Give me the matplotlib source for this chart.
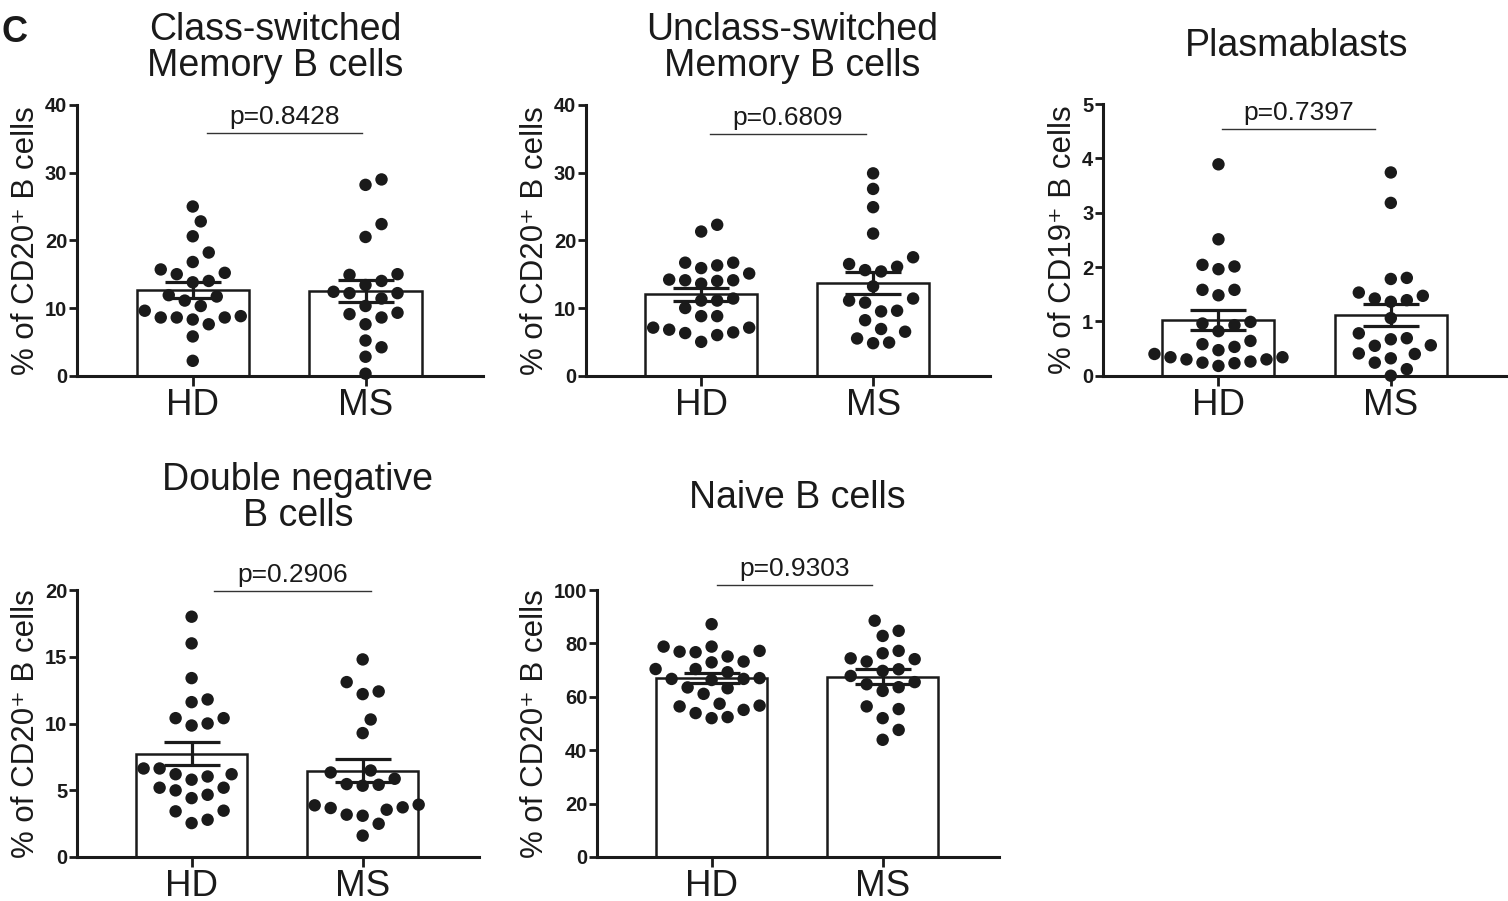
import matplotlib
matplotlib.use('Agg')
import matplotlib.pyplot as plt
import numpy as np

plt.rcParams['font.family'] = ['Liberation Sans', 'DejaVu Sans']

groups = ['HD', 'MS']

# class-switched memory B cells
cs_hd = [25.0, 22.8, 20.6, 18.2, 16.8, 15.7, 15.2, 15.0, 14.0, 13.8, 11.9, 11.7,
         11.1, 10.3, 9.6, 8.8, 8.6, 8.3, 8.6, 8.6, 7.6, 5.8, 2.2]
cs_ms = [29.0, 28.2, 22.4, 20.5, 14.9, 15.0, 13.4, 14.0, 12.2, 12.4, 11.4, 12.2,
         10.3, 9.1, 8.6, 9.3, 7.6, 5.2, 4.2, 2.8, 0.3]

# unclass-switched memory B cells
us_hd = [22.3, 21.3, 16.7, 16.3, 15.9, 16.7, 15.1, 14.2, 14.1, 13.6, 14.0, 14.1,
         11.1, 11.4, 11.1, 10.0, 8.8, 8.8, 7.1, 6.8, 6.3, 6.0, 6.4, 7.1, 5.0]
us_ms = [29.9, 27.6, 24.9, 21.0, 17.5, 16.5, 15.6, 16.1, 15.4, 13.2, 11.4, 10.8,
         11.1, 9.5, 9.6, 8.2, 6.9, 6.5, 5.5, 4.8, 4.9]

# plasmablasts
pb_hd = [3.89, 2.51, 2.04, 1.96, 2.01, 1.58, 1.48, 1.58, 0.96, 0.99, 0.93, 0.82,
         0.64, 0.58, 0.53, 0.47, 0.40, 0.34, 0.30, 0.24, 0.18, 0.23, 0.26, 0.30, 0.34]
pb_ms = [3.74, 3.18, 1.80, 1.78, 1.47, 1.53, 1.39, 1.36, 1.42, 1.06, 0.78, 0.67,
         0.69, 0.56, 0.55, 0.40, 0.41, 0.32, 0.24, 0.12, 0.0]

# double negative B cells
dn_hd = [18.0, 16.0, 13.4, 11.6, 11.8, 10.4, 10.4, 10.0, 9.85, 6.63, 6.63, 6.2,
         6.2, 6.03, 5.79, 5.19, 5.19, 4.99, 4.66, 4.41, 3.42, 3.47, 2.79, 2.54]
dn_ms = [14.8, 13.1, 12.2, 12.4, 10.3, 9.28, 6.33, 6.48, 5.86, 5.46, 5.34, 5.41,
         3.87, 3.67, 3.92, 3.72, 3.54, 3.17, 3.09, 2.49, 1.6]

# naive B cells
nv_hd = [87.2, 78.8, 78.8, 77.2, 76.7, 76.9, 75.1, 73.2, 72.9, 70.4, 70.4, 69.2,
         66.7, 66.7, 66.3, 67.0, 63.2, 63.5, 61.1, 57.4, 56.7, 56.4, 55.1, 53.9,
         52.0, 52.4]
nv_ms = [88.5, 84.7, 82.8, 74.1, 76.3, 77.2, 74.4, 73.2, 70.3, 69.7, 67.8, 64.7,
         63.6, 65.5, 62.2, 55.4, 56.4, 52.0, 47.6, 43.9]

titles = ['Class-switched\nMemory B cells', 'Unclass-switched\nMemory B cells',
          'Plasmablasts', 'Double negative\nB cells', 'Naive B cells']
ylabels = ['% of CD20⁺ B cells', '% of CD20⁺ B cells', '% of CD19⁺ B cells',
           '% of CD20⁺ B cells', '% of CD20⁺ B cells']
pvals = ['p=0.8428', 'p=0.6809', 'p=0.7397', 'p=0.2906', 'p=0.9303']
yticks = [[0, 10, 20, 30, 40], [0, 10, 20, 30, 40], [0, 1, 2, 3, 4, 5],
          [0, 5, 10, 15, 20], [0, 20, 40, 60, 80, 100]]
data = [(cs_hd, cs_ms), (us_hd, us_ms), (pb_hd, pb_ms), (dn_hd, dn_ms), (nv_hd, nv_ms)]

# layout in pixels: axes box (left, top, right, bottom), title centre, sig line
boxes = [(77, 105, 483, 375.7), (586, 105, 990, 375.7), (1103, 104, 1508, 375.7),
         (77, 590, 479, 857), (597, 590, 999, 857)]
title_pos = [(275, 48), (792, 48), (1297, 46), (298, 498), (797, 498)]
sig = [(0.08, 0.98, 35.9), (0.05, 0.96, 35.7), (0.02, 0.91, 4.54),
       (0.13, 1.05, 19.95), (0.03, 0.94, 101.9)]

W, H = 1508, 901
INK = '#1a1a1a'
fig = plt.figure(figsize=(W / 100, H / 100), dpi=100)


def swarm_x(ax, xc, vals, dist=15.5, step=8.0):
    vals = np.asarray(vals, float)
    xy = ax.transData.transform(np.column_stack([np.full(len(vals), xc), vals]))
    x0 = xy[0, 0]
    ys = xy[:, 1]
    offs = np.zeros(len(vals))
    placed = []
    cands = [0.0]
    for k in range(1, 25):
        cands += [k * step, -k * step]
    for i in np.argsort(vals):
        for c in cands:
            if all((c - px) ** 2 + (ys[i] - py) ** 2 >= dist ** 2 for px, py in placed):
                break
        offs[i] = c
        placed.append((c, ys[i]))
    return ax.transData.inverted().transform(np.column_stack([x0 + offs, ys]))[:, 0]


for k in range(5):
    l, t, r, b = boxes[k]
    ax = fig.add_axes([l / W, 1 - b / H, (r - l) / W, (b - t) / H])
    ymax = yticks[k][-1]
    ax.set_xlim(-0.67, 1.68)
    ax.set_ylim(0, ymax)

    for i, vals in enumerate(data[k]):
        v = np.array(vals)
        m = v.mean()
        sem = v.std(ddof=1) / np.sqrt(len(v))
        ax.bar(i, m, width=0.65, color='white', edgecolor=INK, linewidth=1.8, zorder=2)
        xs = swarm_x(ax, i, v)
        ax.scatter(xs, v, s=80, color=INK, edgecolors='none', zorder=3, clip_on=False)
        ax.errorbar(i, m, yerr=sem, fmt='none', ecolor=INK, elinewidth=2.3,
                    capsize=20, capthick=2.3, zorder=4)

    x1, x2, ys = sig[k]
    ax.plot([x1, x2], [ys, ys], color='#333333', lw=1.0, clip_on=False)
    ax.annotate(pvals[k], xy=((x1 + x2) / 2, ys), xytext=(0, 3), textcoords='offset points',
                ha='center', va='bottom', fontsize=19, color=INK, annotation_clip=False)

    ax.set_xticks([0, 1])
    ax.set_xticklabels(groups)
    ax.set_yticks(yticks[k])
    ax.set_yticklabels([str(v) for v in yticks[k]], fontweight='bold')
    ax.tick_params(axis='y', length=6, width=2, pad=1, labelsize=14.5, colors=INK)
    ax.tick_params(axis='x', length=7, width=2, pad=1.5, labelsize=26.5, colors=INK)
    ax.set_ylabel(ylabels[k], fontsize=22.5, color=INK, labelpad=3)
    for s in ['top', 'right']:
        ax.spines[s].set_visible(False)
    for s in ['left', 'bottom']:
        ax.spines[s].set_linewidth(2.2)
        ax.spines[s].set_color(INK)

    tx, ty = title_pos[k]
    fig.text(tx / W, 1 - ty / H, titles[k], ha='center', va='center', fontsize=27,
             linespacing=0.98, color=INK)

fig.text(0.001, 1 - 33 / H, 'C', ha='left', va='center', fontsize=26,
         fontweight='bold', color=INK)

fig.savefig('out.png', dpi=100)
